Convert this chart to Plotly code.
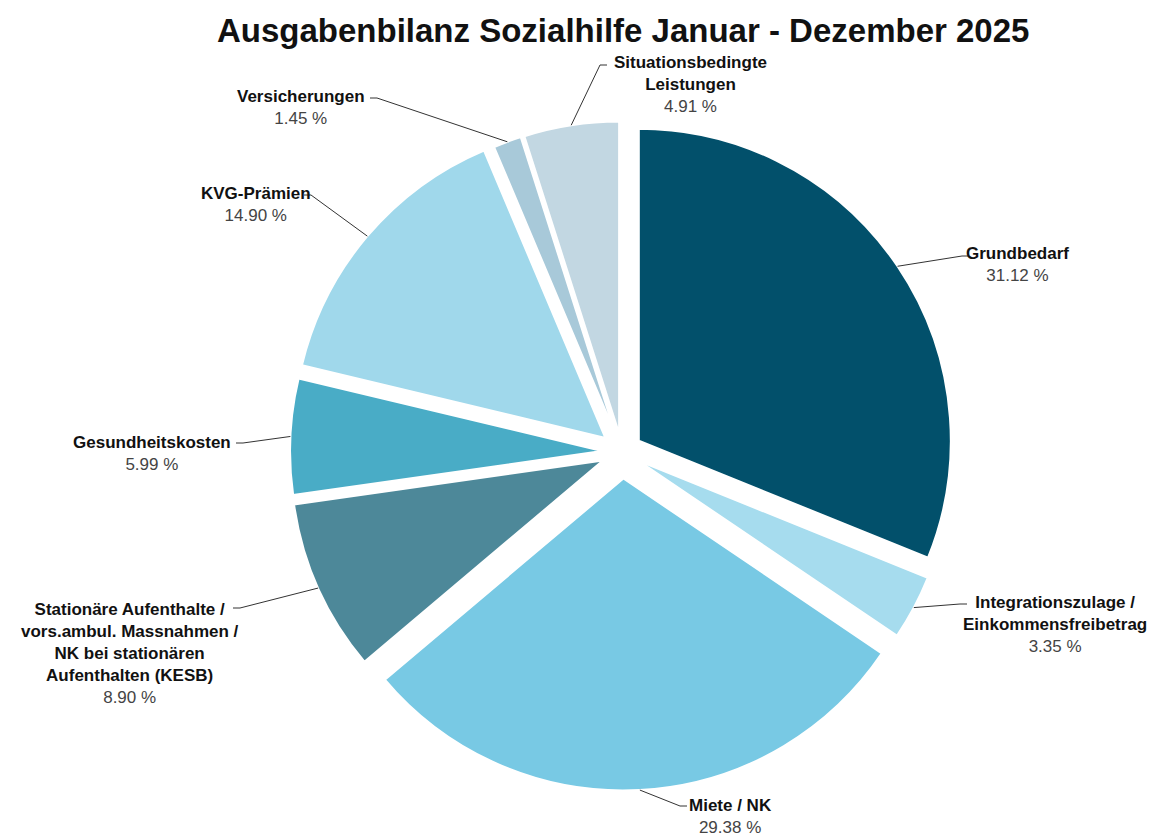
import math
import plotly.graph_objects as go

# ---------------- data ----------------
categories = [
    "Grundbedarf",
    "Integrationszulage /<br>Einkommensfreibetrag",
    "Miete / NK",
    "Stationäre Aufenthalte /<br>vors.ambul. Massnahmen /<br>NK bei stationären<br>Aufenthalten (KESB)",
    "Gesundheitskosten",
    "KVG-Prämien",
    "Versicherungen",
    "Situationsbedingte<br>Leistungen",
]
shares = [31.12, 3.35, 29.38, 8.90, 5.99, 14.90, 1.45, 4.91]
pct_labels = ["31.12 %", "3.35 %", "29.38 %", "8.90 %", "5.99 %", "14.90 %", "1.45 %", "4.91 %"]

# ---------------- style / layout ----------------
colors = ["#02506B", "#A6DCEE", "#78C9E4", "#4D8899", "#49ACC6", "#A0D8EB", "#A8C9D9", "#C2D7E2"]
pulls = [0.065, 0.06, 0.085, 0.067, 0.064, 0.07, 0.06, 0.06]

W, H = 1157, 839
CX, CY = 622, 452          # pie centre (px)
R = 312                    # pie radius (px)
HALF = R * (1 + max(pulls))
dom_x = [(CX - HALF) / W, (CX + HALF) / W]
dom_y = [1 - (CY + HALF) / H, 1 - (CY - HALF) / H]

LABEL_SIZE = 17
# label block: centre x, first-line centre y (px); elbow of leader line (px); side of text
label_pos = [
    (1017, 253, (962, 256), 1),
    (1055, 602, (960, 604), 1),
    (730, 805, (680, 806), 1),
    (130, 609, (240, 608), -1),
    (152, 442, (243, 443), -1),
    (256, 193, (311, 195), -1),
    (301, 96, (377, 98), -1),
    (690, 62, (600, 65), 1),
]


def px(x):
    return x / W


def py(y):
    return 1 - y / H


fig = go.Figure(
    go.Pie(
        labels=categories,
        values=shares,
        sort=False,
        direction="clockwise",
        rotation=0,
        pull=pulls,
        marker=dict(colors=colors, line=dict(color="white", width=2)),
        textinfo="none",
        hoverinfo="label+percent",
        domain=dict(x=dom_x, y=dom_y),
        showlegend=False,
    )
)

total = sum(shares)
cum = 0.0
shapes = []
annotations = []
for i, v in enumerate(shares):
    mid = (cum + v / 2) / total * 2 * math.pi
    cum += v
    rr = R * (1 + pulls[i])
    ax = CX + rr * math.sin(mid)
    ay = CY - rr * math.cos(mid)
    tx, ty, (ex, ey), side = label_pos[i]
    endx = ex + 7 * side
    shapes.append(
        dict(
            type="path",
            xref="paper",
            yref="paper",
            path=f"M {px(ax)},{py(ay)} L {px(ex)},{py(ey)} L {px(endx)},{py(ey)}",
            line=dict(color="#333333", width=1),
        )
    )
    annotations.append(
        dict(
            x=px(tx),
            y=py(ty - 0.65 * LABEL_SIZE),
            xref="paper",
            yref="paper",
            xanchor="center",
            yanchor="top",
            align="center",
            showarrow=False,
            text=f"<b>{categories[i]}</b><br><span style='color:#444444'>{pct_labels[i]}</span>",
            font=dict(family="Liberation Sans, Arial", size=LABEL_SIZE, color="#111111"),
        )
    )

annotations.append(
    dict(
        x=px(623),
        y=py(31),
        xref="paper",
        yref="paper",
        xanchor="center",
        yanchor="middle",
        showarrow=False,
        text="<b>Ausgabenbilanz Sozialhilfe Januar - Dezember 2025</b>",
        font=dict(family="Liberation Sans, Arial", size=33, color="#111111"),
    )
)

fig.update_layout(
    width=W,
    height=H,
    margin=dict(l=0, r=0, t=0, b=0),
    paper_bgcolor="white",
    plot_bgcolor="white",
    shapes=shapes,
    annotations=annotations,
)

fig.write_html(
    "out.html",
    config={"displayModeBar": False},
    post_script="document.body.style.margin='0';document.body.style.overflow='hidden';",
)
